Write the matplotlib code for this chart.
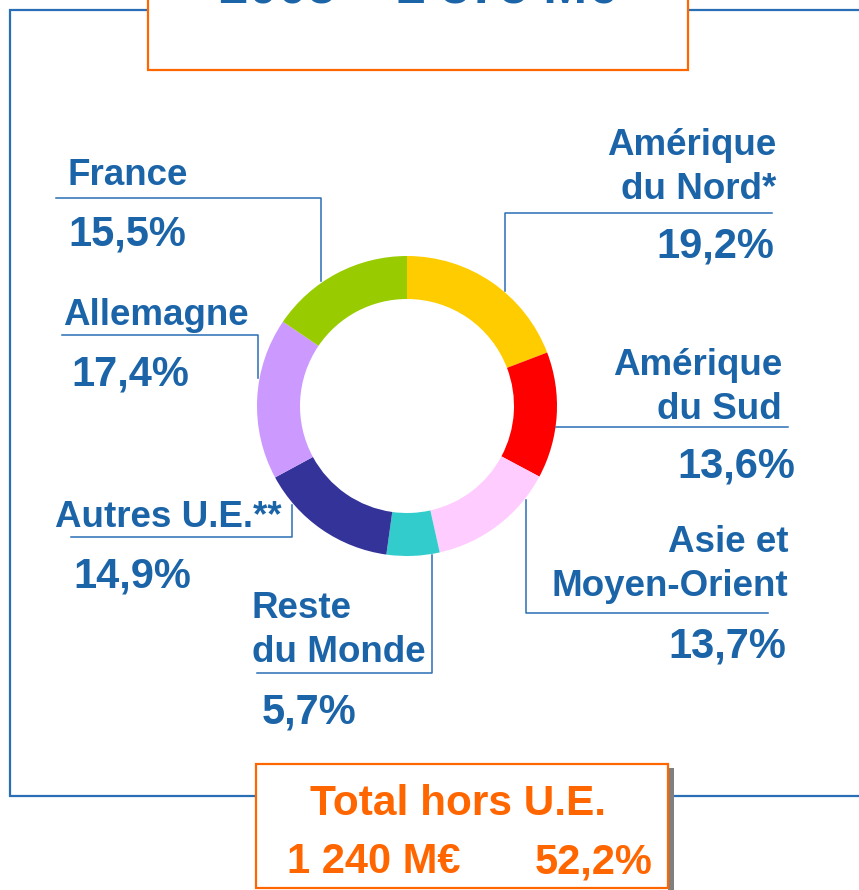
import matplotlib
matplotlib.use("Agg")
import matplotlib.pyplot as plt
from matplotlib.patches import Rectangle

plt.rcParams['font.family'] = ['Liberation Sans', 'DejaVu Sans']
plt.rcParams['font.weight'] = 'bold'

# Data
regions = ["Amérique\ndu Nord*", "Amérique\ndu Sud", "Asie et\nMoyen-Orient",
           "Reste\ndu Monde", "Autres U.E.**", "Allemagne", "France"]
shares = [19.2, 13.6, 13.7, 5.7, 14.9, 17.4, 15.5]
colors = ["#FFCC00", "#FF0000", "#FFCCFF", "#33CCCC", "#333399", "#CC99FF", "#99CC00"]
title_text = "2005 = 2 375 M€"
total_hors_ue = 1240  # M€
hors_ue = ["Amérique\ndu Nord*", "Amérique\ndu Sud", "Asie et\nMoyen-Orient", "Reste\ndu Monde"]

BLUE = "#1B64A8"
LINE = "#2A6FB5"
ORANGE = "#FF6600"

fig = plt.figure(figsize=(8.59, 8.90), dpi=100)
ax = fig.add_axes([0, 0, 1, 1])

# donut (y axis is inverted below, so go counterclockwise from -90 to look clockwise from the top)
ax.pie(shares, colors=colors, startangle=-90, counterclock=True,
       center=(407, 406), radius=150,
       wedgeprops=dict(width=43, linewidth=0))

ax.set_xlim(0, 859)
ax.set_ylim(890, 0)
ax.set_aspect('equal')
ax.axis('off')

# outer blue frame
ax.plot([148, 10, 10, 256], [10, 10, 796, 796], color=LINE, lw=1.6, solid_joinstyle='miter')
ax.plot([688, 859], [10, 10], color=LINE, lw=1.6)
ax.plot([674, 859], [796, 796], color=LINE, lw=1.6)

# top title box (cut by the top of the picture)
ax.add_patch(Rectangle((148, -30), 540, 100, facecolor='white', edgecolor=ORANGE, lw=1.6, zorder=3))
ax.text(418, 4, title_text, color=BLUE, fontsize=38, ha='center', va='baseline', zorder=4)

# leader lines
leaders = [
    ([56, 321, 321], [198, 198, 281]),
    ([772, 505, 505], [213, 213, 291]),
    ([62, 258, 258], [335, 335, 378]),
    ([556, 788], [427, 427]),
    ([526, 526, 768], [500, 613, 613]),
    ([432, 432, 257], [555, 673, 673]),
    ([71, 292, 292], [537, 537, 505]),
]
for xs, ys in leaders:
    ax.plot(xs, ys, color=LINE, lw=1.1)

# label layout: (x, first baseline, ha, pct x, pct baseline)
layout = {
    "Amérique\ndu Nord*": (776, 155, 'right', 774, 257),
    "Amérique\ndu Sud": (782, 375, 'right', 795, 478),
    "Asie et\nMoyen-Orient": (788, 552, 'right', 786, 657),
    "Reste\ndu Monde": (252, 618, 'left', 262, 723),
    "Autres U.E.**": (55, 527, 'left', 73, 587),
    "Allemagne": (63, 325, 'left', 71, 385),
    "France": (68, 185, 'left', 68, 245),
}
for name, val in zip(regions, shares):
    x, y, ha, px, py = layout[name]
    for i, line in enumerate(name.split("\n")):
        ax.text(x, y + i * 44, line, color=BLUE, fontsize=26.5, ha=ha, va='baseline')
    pct = f"{val:.1f}%".replace('.', ',')
    ax.text(px, py, pct, color=BLUE, fontsize=30, ha=ha, va='baseline')

# bottom box: total outside EU
hors_share = sum(v for n, v in zip(regions, shares) if n in hors_ue)
ax.add_patch(Rectangle((668, 768), 6, 125, facecolor='#808080', edgecolor='none', zorder=2))
ax.add_patch(Rectangle((256, 764), 412, 124, facecolor='white', edgecolor=ORANGE, lw=1.6, zorder=3))
ax.text(458, 815, "Total hors U.E.", color=ORANGE, fontsize=30.5, ha='center', va='baseline', zorder=4)
ax.text(287, 873, f"{total_hors_ue // 1000} {total_hors_ue % 1000:03d} M€", color=ORANGE,
        fontsize=30, ha='left', va='baseline', zorder=4)
ax.text(653, 873, f"{hors_share:.1f}%".replace('.', ','), color=ORANGE,
        fontsize=30, ha='right', va='baseline', zorder=4)

fig.savefig("out.png", dpi=100)
